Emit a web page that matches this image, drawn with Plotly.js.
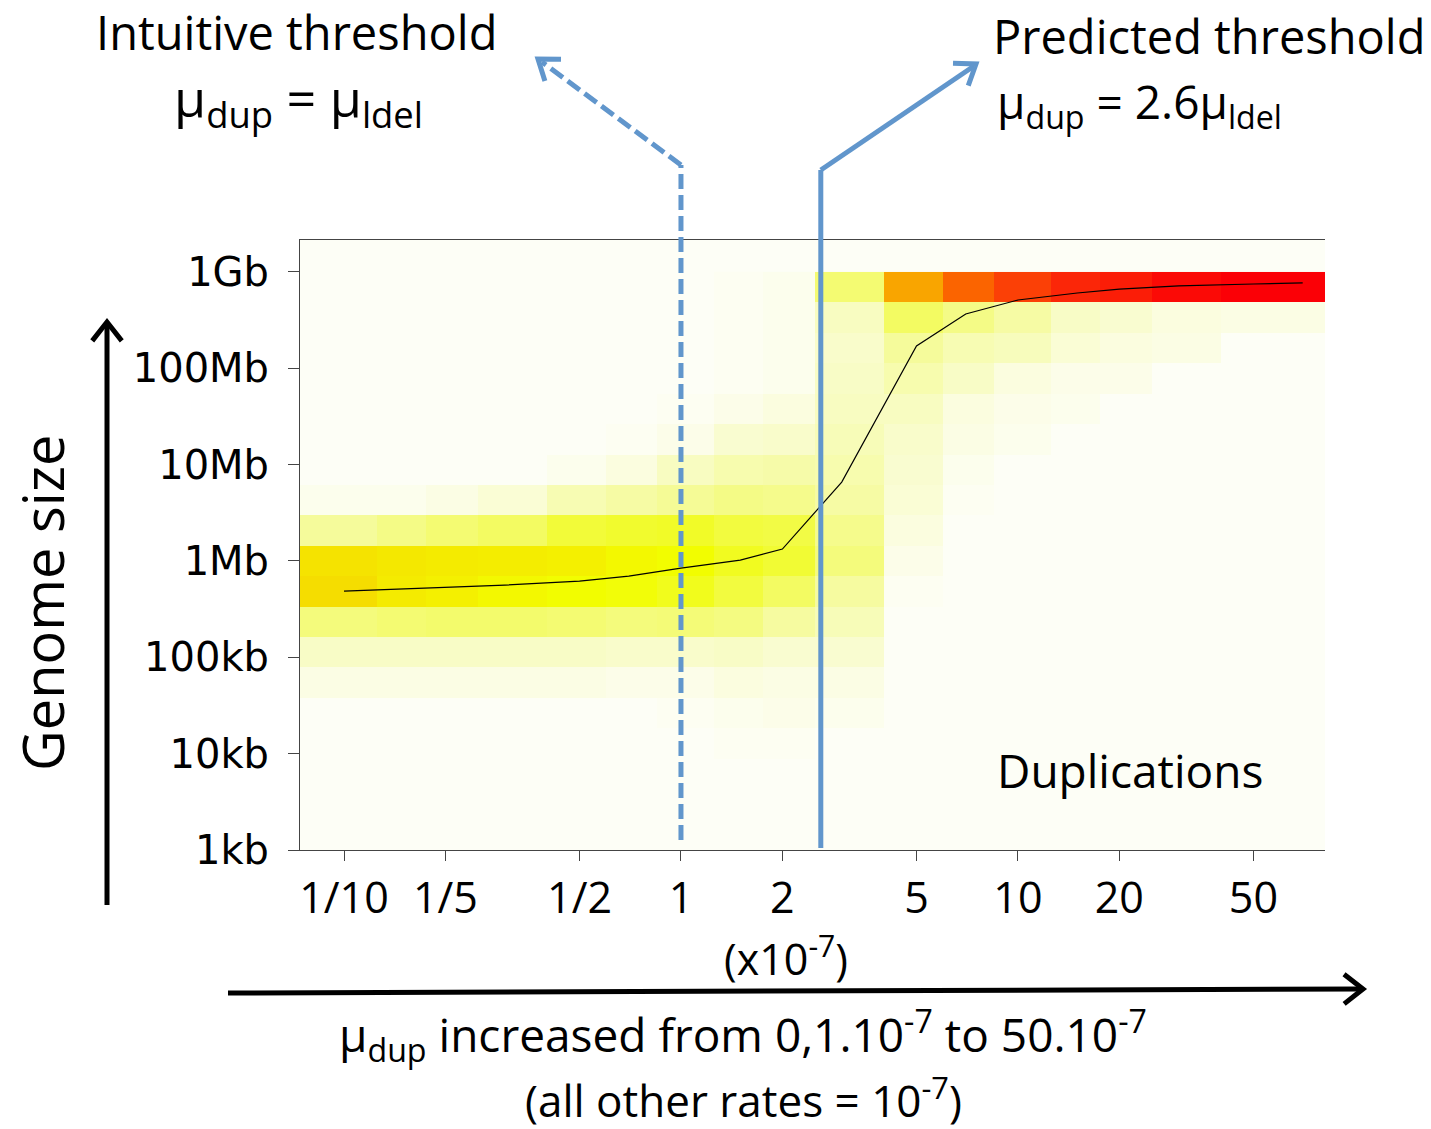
<!DOCTYPE html>
<html>
<head>
<meta charset="utf-8">
<script src="https://cdn.plot.ly/plotly-3.0.1.min.js"></script>
<style>html,body{margin:0;padding:0;background:#fff;}#chart{width:1431px;height:1129px;}</style>
</head>
<body>
<div id="chart"></div>
<script>
// ---------------- DATA ----------------
// duplication rate (x 1e-7), one column per simulated value
const muDup = [0.1, 0.15, 0.2, 0.3, 0.5, 0.7, 1, 1.5, 2, 3, 5, 7, 10, 15, 20, 30, 50, 70];
// mean genome size (bp) for each duplication rate (black line)
const meanGenomeSizeBp = [486000, 511000, 536000, 562000, 618000, 697000, 843000, 1021000, 1330000,
  6590000, 170600000, 366000000, 512000000, 605000000, 665000000, 716000000, 750000000, 769000000];
// genome-size bins: 19 equal log bins between 1kb and 1Gb
const sizeBinMinBp = 1e3;
const sizeBinMaxBp = 1e9;
const sizeBinCount = 19;
// frequency of genome sizes per bin, rows listed from the TOP bin (near 1Gb) down to the bottom bin (near 1kb)
const densityTopToBottom = [
  [0,0,0,0,0,0,0,0.01,0.02,0.27,0.70,0.80,0.87,0.92,0.94,0.98,1.00,1.00],
  [0,0,0,0,0,0,0,0.01,0.02,0.11,0.30,0.23,0.17,0.10,0.08,0.05,0.04,0.04],
  [0,0,0,0,0,0,0,0.01,0.02,0.09,0.19,0.14,0.12,0.07,0.05,0.04,0,0],
  [0,0,0,0,0,0,0,0.01,0.02,0.10,0.15,0.10,0.05,0.03,0.03,0,0,0],
  [0,0,0,0,0,0,0.01,0.03,0.05,0.11,0.11,0.05,0.03,0.02,0,0,0,0],
  [0,0,0,0,0,0.01,0.03,0.08,0.09,0.13,0.09,0.04,0.02,0,0,0,0,0],
  [0,0,0,0,0.02,0.05,0.11,0.15,0.16,0.15,0.08,0.02,0,0,0,0,0,0],
  [0.02,0.02,0.04,0.07,0.14,0.17,0.20,0.23,0.22,0.17,0.07,0.01,0,0,0,0,0,0],
  [0.19,0.23,0.27,0.30,0.37,0.39,0.40,0.36,0.35,0.22,0.05,0,0,0,0,0,0,0],
  [0.60,0.58,0.57,0.56,0.55,0.52,0.50,0.42,0.38,0.25,0.03,0,0,0,0,0,0,0],
  [0.61,0.57,0.55,0.52,0.50,0.48,0.43,0.36,0.30,0.18,0.01,0,0,0,0,0,0,0],
  [0.25,0.27,0.28,0.28,0.27,0.25,0.26,0.24,0.18,0.13,0,0,0,0,0,0,0,0],
  [0.10,0.10,0.10,0.10,0.10,0.09,0.09,0.10,0.08,0.08,0,0,0,0,0,0,0,0],
  [0.04,0.04,0.04,0.04,0.04,0.03,0.03,0.05,0.04,0.04,0,0,0,0,0,0,0,0],
  [0,0,0,0,0,0,0.01,0.02,0.03,0.02,0,0,0,0,0,0,0,0],
  [0,0,0,0,0,0,0,0.01,0.01,0,0,0,0,0,0,0,0,0],
  [0,0,0,0,0,0,0,0,0,0,0,0,0,0,0,0,0,0],
  [0,0,0,0,0,0,0,0,0,0,0,0,0,0,0,0,0,0],
  [0,0,0,0,0,0,0,0,0,0,0,0,0,0,0,0,0,0]
];
const xTickValues = [0.1, 0.2, 0.5, 1, 2, 5, 10, 20, 50];
const xTickLabels = ['1/10', '1/5', '1/2', '1', '2', '5', '10', '20', '50'];
const yTickValues = [1e3, 1e4, 1e5, 1e6, 1e7, 1e8, 1e9];
const yTickLabels = ['1kb', '10kb', '100kb', '1Mb', '10Mb', '100Mb', '1Gb'];
const intuitiveThreshold = 1;   // mu_dup = mu_ldel
const predictedThreshold = 2.6; // mu_dup = 2.6 mu_ldel

// ---------------- BUILD ----------------
const L = 300, R = 1325, T = 240, B = 850;
const xRange = [-1.1306, 1.9113];
const yRange = [3, 9.332];
const lg = Math.log10;

const xLog = muDup.map(lg);
// cell borders halfway between neighbouring rates
const xEdges = [xRange[0]];
for (let i = 0; i < muDup.length - 1; i++) xEdges.push(lg((muDup[i] + muDup[i + 1]) / 2));
xEdges.push(xRange[1]);

const yEdges = [];
const yLo = lg(sizeBinMinBp), yHi = lg(sizeBinMaxBp);
for (let k = 0; k <= sizeBinCount; k++) yEdges.push(yLo + (yHi - yLo) * k / sizeBinCount);
const zBottomUp = densityTopToBottom.slice().reverse();

const colorscale = [
  [0.00, '#fdfef6'], [0.04, '#fbfde4'], [0.10, '#f8fcc6'], [0.20, '#f5fb96'],
  [0.30, '#f3fb62'], [0.40, '#f1fb28'], [0.50, '#f2fd00'], [0.60, '#f5e300'],
  [0.70, '#f9a500'], [0.80, '#fb6400'], [0.90, '#fb3008'], [1.00, '#fb0006']
];

const heat = {
  type: 'heatmap', x: xEdges, y: yEdges, z: zBottomUp,
  zmin: 0, zmax: 1, colorscale: colorscale, showscale: false, zsmooth: false, hoverinfo: 'skip'
};
const meanLine = {
  type: 'scatter', mode: 'lines', x: xLog, y: meanGenomeSizeBp.map(lg),
  line: { color: '#000', width: 1.2 }, hoverinfo: 'skip', showlegend: false
};

// pixel -> paper helpers for decorations
const px = v => (v - L) / (R - L);
const py = v => (B - v) / (B - T);
const blue = '#6196cc';

function chevron(tip, tail, len, angDeg, color, width) {
  const a = Math.atan2(tail[1] - tip[1], tail[0] - tip[0]);
  const d = angDeg * Math.PI / 180;
  const p1 = [tip[0] + len * Math.cos(a + d), tip[1] + len * Math.sin(a + d)];
  const p2 = [tip[0] + len * Math.cos(a - d), tip[1] + len * Math.sin(a - d)];
  return {
    type: 'path', xref: 'paper', yref: 'paper', layer: 'above',
    path: `M${px(p1[0])},${py(p1[1])} L${px(tip[0])},${py(tip[1])} L${px(p2[0])},${py(p2[1])}`,
    line: { color: color, width: width }
  };
}
function seg(p, q, color, width, dash) {
  return { type: 'line', xref: 'paper', yref: 'paper', layer: 'above',
    x0: px(p[0]), y0: py(p[1]), x1: px(q[0]), y1: py(q[1]),
    line: { color: color, width: width, dash: dash || 'solid' } };
}

// threshold lines located on the data axis
const xIntPx = L + (lg(intuitiveThreshold) - xRange[0]) / (xRange[1] - xRange[0]) * (R - L);
const xPredPx = L + (lg(predictedThreshold) - xRange[0]) / (xRange[1] - xRange[0]) * (R - L);

const shapes = [
  { type: 'line', xref: 'x', yref: 'paper', layer: 'above', x0: lg(intuitiveThreshold), x1: lg(intuitiveThreshold),
    y0: py(840), y1: py(165), line: { color: blue, width: 5, dash: '15px,6px' } },
  seg([xIntPx, 165], [542, 62], blue, 5, '15px,6px'),
  chevron([538, 59], [xIntPx, 165], 23, 36, blue, 5),
  { type: 'line', xref: 'x', yref: 'paper', layer: 'above', x0: lg(predictedThreshold), x1: lg(predictedThreshold),
    y0: py(848), y1: py(170), line: { color: blue, width: 5 } },
  seg([xPredPx, 170], [974, 66], blue, 5),
  chevron([976, 64], [xPredPx, 170], 23, 36, blue, 5),
  // genome size arrow
  seg([107, 905], [107, 324], '#000', 5),
  chevron([107, 322], [107, 905], 24, 38, '#000', 5),
  // mu_dup arrow
  seg([228, 993], [1361, 989], '#000', 5),
  chevron([1363, 989], [228, 993], 24, 38, '#000', 5)
];

const F = 'Open Sans, Lato, sans-serif';
function ann(text, x, y, size, opts) {
  return Object.assign({ text: text, xref: 'paper', yref: 'paper', x: px(x), y: py(y),
    xanchor: 'center', yanchor: 'middle', showarrow: false,
    font: { family: F, size: size, color: '#000' } }, opts || {});
}
const annotations = [
  ann('Intuitive threshold', 296, 32, 47),
  ann('μ<sub>dup</sub> = μ<sub>ldel</sub>', 298, 100, 52),
  ann('Predicted threshold', 1209, 36, 47),
  ann('μ<sub>dup</sub> = 2.6μ<sub>ldel</sub>', 995, 104, 46, { xanchor: 'left' }),
  ann('Duplications', 1130, 770, 46),
  ann('(x10<sup>-7</sup>)', 786, 956, 43),
  ann('μ<sub>dup</sub> increased from 0,1.10<sup>-7</sup> to 50.10<sup>-7</sup>', 743, 1035, 46),
  ann('(all other rates = 10<sup>-7</sup>)', 743, 1098, 44),
  ann('Genome size', 42, 603, 56, { textangle: -90 })
];

const layout = {
  width: 1431, height: 1129, autosize: false,
  margin: { l: L, r: 1431 - R, t: T, b: 1129 - B, pad: 0 },
  paper_bgcolor: '#ffffff', plot_bgcolor: '#fdfef6',
  showlegend: false,
  xaxis: {
    range: xRange, tickmode: 'array', tickvals: xTickValues.map(lg), ticktext: xTickLabels,
    ticks: 'outside', ticklen: 10, tickwidth: 1, tickcolor: '#444',
    showline: true, linecolor: '#444', linewidth: 1, mirror: true,
    showgrid: false, zeroline: false, ticklabelstandoff: 0,
    tickfont: { family: F, size: 43, color: '#000' }, fixedrange: true
  },
  yaxis: {
    range: yRange, tickmode: 'array', tickvals: yTickValues.map(lg), ticktext: yTickLabels,
    ticks: 'outside', ticklen: 11, tickwidth: 1, tickcolor: '#444',
    showline: true, linecolor: '#444', linewidth: 1, mirror: false,
    showgrid: false, zeroline: false, ticklabelstandoff: 11,
    tickfont: { family: 'DejaVu Sans, sans-serif', size: 40, color: '#000' }, fixedrange: true
  },
  shapes: shapes,
  annotations: annotations
};

Plotly.newPlot('chart', [heat, meanLine], layout, { staticPlot: true, displayModeBar: false });
</script>
</body>
</html>
